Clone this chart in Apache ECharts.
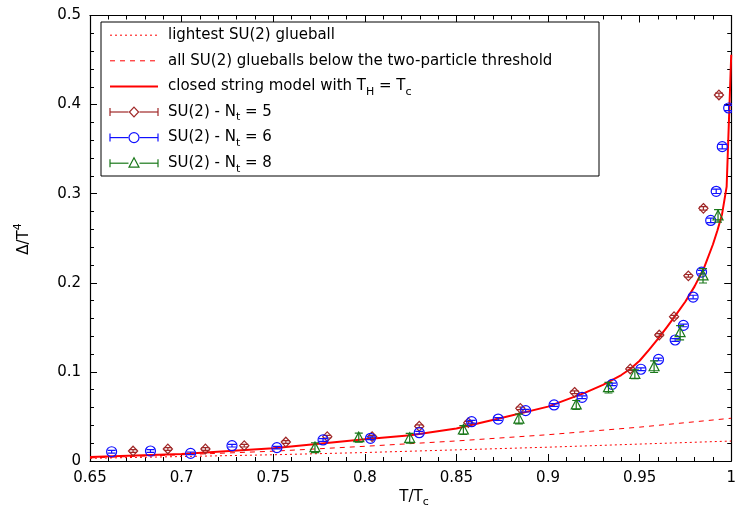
<!DOCTYPE html>
<html>
<head>
<meta charset="utf-8">
<script src="https://cdn.jsdelivr.net/npm/echarts@6/dist/echarts.min.js"></script>
<style>
  html, body { margin: 0; padding: 0; background: #fff; }
  #chart { width: 739px; height: 514px; }
</style>
</head>
<body>
<div id="chart"></div>
<script>
// ---- data -------------------------------------------------------------
// glueball gas curves (T/Tc, Delta/T^4)
const gasT = [0.65, 0.70, 0.75, 0.80, 0.85, 0.90, 0.95, 1.00];
const lightestGlueball = [0.0030, 0.0050, 0.0070, 0.0095, 0.0125, 0.0155, 0.0190, 0.0224];
const allGlueballs = [0.0035, 0.0070, 0.0110, 0.0165, 0.0225, 0.0295, 0.0380, 0.0480];

// closed string model with T_H = T_c
const stringT = [0.65, 0.70, 0.75, 0.80, 0.825, 0.85, 0.875, 0.90, 0.92, 0.93, 0.94, 0.945, 0.95,
                 0.955, 0.96, 0.965, 0.97, 0.975, 0.98, 0.985, 0.99, 0.9925, 0.995, 0.9975, 1.00];
const closedString = [0.0045, 0.0078, 0.0142, 0.0243, 0.0290, 0.0365, 0.0485, 0.0610, 0.0765, 0.0855,
                      0.0965, 0.1035, 0.1125, 0.1245, 0.1370, 0.1505, 0.1645, 0.1790, 0.1960, 0.2160,
                      0.2430, 0.2590, 0.2770, 0.3080, 0.4560];

// lattice SU(2), N_t = 5
const nt5T = [0.6735, 0.6925, 0.7130, 0.7342, 0.7569, 0.7795, 0.8040, 0.8297, 0.8565, 0.8849,
              0.9145, 0.9449, 0.9607, 0.9688, 0.9766, 0.9848, 0.9933];
const nt5 = [0.0112, 0.0135, 0.0135, 0.0172, 0.0213, 0.0273, 0.0273, 0.0390, 0.0430, 0.0591,
             0.0771, 0.1033, 0.1414, 0.1620, 0.2078, 0.2836, 0.4108];
const nt5Err = [0.0015, 0.0015, 0.0015, 0.0015, 0.0015, 0.0015, 0.0015, 0.0015, 0.0015, 0.0015,
                0.0015, 0.0015, 0.0015, 0.0015, 0.0015, 0.0020, 0.0020];

// lattice SU(2), N_t = 6
const nt6T = [0.6618, 0.6830, 0.7049, 0.7275, 0.7520, 0.7772, 0.8031, 0.8297, 0.8583, 0.8728,
              0.8878, 0.9033, 0.9186, 0.9350, 0.9507, 0.9603, 0.9694, 0.9739, 0.9792, 0.9838,
              0.9888, 0.9918, 0.9951, 0.9986];
const nt6 = [0.0104, 0.0112, 0.0086, 0.0172, 0.0150, 0.0236, 0.0255, 0.0318, 0.0441, 0.0471,
             0.0565, 0.0629, 0.0715, 0.0860, 0.1030, 0.1140, 0.1358, 0.1522, 0.1840, 0.2120,
             0.2700, 0.3027, 0.3528, 0.3962];
const nt6Err = [0.0015, 0.0015, 0.0015, 0.0015, 0.0015, 0.0015, 0.0015, 0.0015, 0.0015, 0.0015,
                0.0015, 0.0015, 0.0015, 0.0015, 0.0015, 0.0015, 0.0015, 0.0015, 0.0020, 0.0020,
                0.0025, 0.0025, 0.0025, 0.0030];

// lattice SU(2), N_t = 8
const nt8T = [0.7728, 0.7967, 0.8245, 0.8538, 0.8841, 0.9154, 0.9330, 0.9474, 0.9579, 0.9721,
              0.9846, 0.9928];
const nt8 = [0.0150, 0.0262, 0.0255, 0.0348, 0.0471, 0.0629, 0.0823, 0.0973, 0.1058, 0.1440,
             0.2078, 0.2752];
const nt8Err = [0.0055, 0.0050, 0.0055, 0.0050, 0.0055, 0.0050, 0.0060, 0.0050, 0.0065, 0.0080,
                0.0080, 0.0070];

const legendLabels = [
  'lightest SU(2) glueball',
  'all SU(2) glueballs below the two-particle threshold',
  'closed string model with T{sub|H} = T{sub|c}',
  'SU(2) - N{sub|t} = 5',
  'SU(2) - N{sub|t} = 6',
  'SU(2) - N{sub|t} = 8'
];

// ---- styling ------------------------------------------------------------
const FONT = 'DejaVu Sans';
const FS = 15;
const RED = '#ff0000';
const BROWN = '#a02828';
const BLUE = '#1010ff';
const GREEN = '#1a781a';
const MARK_W = 1.2;

const rich = {
  sub: { fontFamily: FONT, fontSize: 11, fill: '#000', padding: [11, 0, 0, 0] },
  sup: { fontFamily: FONT, fontSize: 11, fill: '#000', padding: [0, 0, 11, 0] }
};

function markerShape(kind, x, y, style) {
  if (kind === 'circle') {
    return { type: 'circle', shape: { cx: x, cy: y, r: 5 }, style };
  }
  if (kind === 'diamond') {
    return { type: 'polygon', shape: { points: [[x, y - 4.8], [x + 4.6, y], [x, y + 4.8], [x - 4.6, y]] }, style };
  }
  return { type: 'polygon', shape: { points: [[x, y - 5.5], [x + 5, y + 4], [x - 5, y + 4]] }, style };
}

function errorSeries(name, xs, ys, errs, color, kind) {
  return {
    type: 'custom',
    name,
    xAxisIndex: 0,
    yAxisIndex: 0,
    clip: true,
    z: 5,
    dimensions: ['T', 'value', 'err'],
    encode: { x: 0, y: 1 },
    data: xs.map((x, i) => [x, ys[i], errs[i]]),
    renderItem(params, api) {
      const x = api.value(0), y = api.value(1), e = api.value(2);
      const c = api.coord([x, y]);
      const lo = api.coord([x, y - e]);
      const hi = api.coord([x, y + e]);
      const cap = 4;
      const st = { stroke: color, lineWidth: MARK_W, fill: 'none' };
      return {
        type: 'group',
        children: [
          { type: 'line', shape: { x1: c[0], y1: lo[1], x2: c[0], y2: hi[1] }, style: st },
          { type: 'line', shape: { x1: c[0] - cap, y1: lo[1], x2: c[0] + cap, y2: lo[1] }, style: st },
          { type: 'line', shape: { x1: c[0] - cap, y1: hi[1], x2: c[0] + cap, y2: hi[1] }, style: st },
          markerShape(kind, c[0], c[1], st)
        ]
      };
    }
  };
}

function pairs(xs, ys) { return xs.map((x, i) => [x, ys[i]]); }

const axisLine = { show: true, onZero: false, lineStyle: { color: '#000', width: 1.2 } };
const axisTick = { show: true, inside: true, length: 7, lineStyle: { color: '#000', width: 1 } };
const minorTick = { show: true, splitNumber: 5, length: 4, lineStyle: { color: '#000', width: 1 } };
const tickLabel = { color: '#000', fontFamily: FONT, fontSize: FS };

// ---- legend ---------------------------------------------------------------
const legendX0 = 110, legendX1 = 158, legendTextX = 168;
const legendRowY = [35.2, 60.8, 86.4, 112, 137.6, 163.2];
const legendGraphics = [
  { type: 'rect', z: 100, shape: { x: 101, y: 22, width: 498, height: 154 },
    style: { fill: '#fff', stroke: '#000', lineWidth: 1 } }
];
const legendLineStyles = [
  { stroke: RED, lineWidth: 1, lineDash: [2, 3] },
  { stroke: RED, lineWidth: 1, lineDash: [5, 5] },
  { stroke: RED, lineWidth: 2 }
];
legendLineStyles.forEach((st, i) => {
  legendGraphics.push({ type: 'line', z: 101,
    shape: { x1: legendX0, y1: legendRowY[i], x2: legendX1, y2: legendRowY[i] }, style: st });
});
[[BROWN, 'diamond'], [BLUE, 'circle'], [GREEN, 'triangle']].forEach(([color, kind], j) => {
  const y = legendRowY[3 + j];
  const st = { stroke: color, lineWidth: MARK_W, fill: 'none' };
  const mid = (legendX0 + legendX1) / 2;
  legendGraphics.push(
    { type: 'line', z: 101, shape: { x1: legendX0, y1: y, x2: mid - 5.5, y2: y }, style: st },
    { type: 'line', z: 101, shape: { x1: mid + 5.5, y1: y, x2: legendX1, y2: y }, style: st },
    { type: 'line', z: 101, shape: { x1: legendX0, y1: y - 4, x2: legendX0, y2: y + 4 }, style: st },
    { type: 'line', z: 101, shape: { x1: legendX1, y1: y - 4, x2: legendX1, y2: y + 4 }, style: st },
    Object.assign(markerShape(kind, mid, y, st), { z: 101 })
  );
});
legendLabels.forEach((label, i) => {
  legendGraphics.push({ type: 'text', z: 101,
    style: { text: label, x: legendTextX, y: legendRowY[i], fill: '#000', fontFamily: FONT, fontSize: FS,
             align: 'left', verticalAlign: 'middle', rich } });
});

// axis titles
const titleGraphics = [
  { type: 'text', z: 101, x: 414, y: 497,
    style: { text: 'T/T{sub|c}', x: 0, y: 0, fill: '#000', fontFamily: FONT, fontSize: FS,
             align: 'center', verticalAlign: 'middle', rich } },
  { type: 'text', z: 101, x: 24, y: 239, rotation: Math.PI / 2,
    style: { text: '\u0394/T{sup|4}', x: 0, y: 0, fill: '#000', fontFamily: FONT, fontSize: FS,
             align: 'center', verticalAlign: 'middle', rich } }
];

// ---- chart ----------------------------------------------------------------
const chart = echarts.init(document.getElementById('chart'), null, { renderer: 'canvas' });
chart.setOption({
  animation: false,
  backgroundColor: '#fff',
  grid: { left: 90, right: 5, top: 15.5, bottom: 53, containLabel: false },
  xAxis: [
    { type: 'value', position: 'bottom', min: 0.65, max: 1, interval: 0.05,
      axisLine, axisTick, minorTick, splitLine: { show: false }, minorSplitLine: { show: false },
      axisLabel: Object.assign({ margin: 9.5 }, tickLabel) },
    { type: 'value', position: 'top', min: 0.65, max: 1, interval: 0.05,
      axisLine, axisTick, minorTick, splitLine: { show: false }, axisLabel: { show: false } }
  ],
  yAxis: [
    { type: 'value', position: 'left', min: 0, max: 0.5, interval: 0.1,
      axisLine, axisTick, minorTick, splitLine: { show: false }, minorSplitLine: { show: false },
      axisLabel: Object.assign({ margin: 9 }, tickLabel) },
    { type: 'value', position: 'right', min: 0, max: 0.5, interval: 0.1,
      axisLine, axisTick, minorTick, splitLine: { show: false }, axisLabel: { show: false } }
  ],
  series: [
    { type: 'line', name: 'lightest SU(2) glueball', data: pairs(gasT, lightestGlueball),
      showSymbol: false, symbol: 'none', clip: true, z: 3,
      lineStyle: { color: RED, width: 1, type: [2, 3] } },
    { type: 'line', name: 'all SU(2) glueballs', data: pairs(gasT, allGlueballs),
      showSymbol: false, symbol: 'none', clip: true, z: 3,
      lineStyle: { color: RED, width: 1, type: [5, 5] } },
    { type: 'line', name: 'closed string model', data: pairs(stringT, closedString),
      showSymbol: false, symbol: 'none', clip: true, z: 3,
      lineStyle: { color: RED, width: 2, join: 'round' } },
    errorSeries('SU(2) - Nt = 5', nt5T, nt5, nt5Err, BROWN, 'diamond'),
    errorSeries('SU(2) - Nt = 6', nt6T, nt6, nt6Err, BLUE, 'circle'),
    errorSeries('SU(2) - Nt = 8', nt8T, nt8, nt8Err, GREEN, 'triangle')
  ],
  graphic: legendGraphics.concat(titleGraphics)
});
</script>
</body>
</html>
